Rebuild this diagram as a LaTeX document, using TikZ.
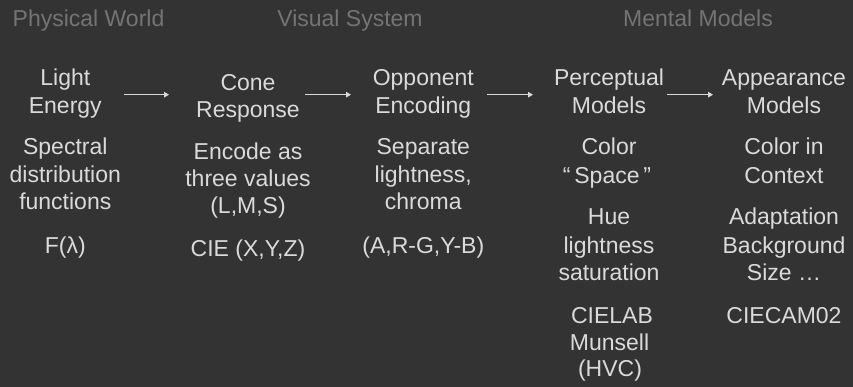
\documentclass[tikz,border=0pt]{standalone}
\usepackage{fontspec}
\setmainfont{Liberation Sans}
\usetikzlibrary{arrows.meta}
\definecolor{bg}{HTML}{333333}
\definecolor{fg}{HTML}{DADADA}
\definecolor{hd}{HTML}{747474}
\begin{document}
\begin{tikzpicture}[x=1pt,y=-1pt,
  txt/.style={text=fg, font=\fontsize{23}{27}\selectfont, anchor=base, inner sep=0pt},
  hdr/.style={txt, text=hd},
  arr/.style={draw=fg, line width=1.5pt, -{Triangle[length=5pt,width=5.5pt]}}]
\fill[bg] (0,0) rectangle (853,387);
\useasboundingbox (0,0) rectangle (853,387);
% headers
\node[hdr] (h1) at (88.5,26.7) {Physical World};
\node[hdr] (h2) at (350,26.7) {Visual System};
\node[hdr] (h3) at (698,26.7) {Mental Models};
% column 1
\node[txt] (c1t1) at (65.3,86) {Light};
\node[txt] (c1t2) at (65.3,113.3) {Energy};
\node[txt] (c1d1) at (65.3,155) {Spectral};
\node[txt] (c1d2) at (65.3,183) {distribution};
\node[txt] (c1d3) at (65.3,210) {functions};
\node[txt] (c1e1) at (65.3,254) {F(λ)};
% column 2
\node[txt] (c2t1) at (248,90.7) {Cone};
\node[txt] (c2t2) at (248,117.3) {Response};
\node[txt] (c2d1) at (248,159.3) {Encode as};
\node[txt] (c2d2) at (248,186.7) {three values};
\node[txt] (c2d3) at (248,214) {(L,M,S)};
\node[txt] (c2e1) at (248,256.7) {CIE (X,Y,Z)};
% column 3
\node[txt] (c3t1) at (423.3,86) {Opponent};
\node[txt] (c3t2) at (423.3,113.3) {Encoding};
\node[txt] (c3d1) at (423.3,154.3) {Separate};
\node[txt] (c3d2) at (423.3,182.7) {lightness,};
\node[txt] (c3d3) at (423.3,210) {chroma};
\node[txt] (c3e1) at (423.3,253.3) {(A,R-G,Y-B)};
% column 4
\node[txt] (c4t1) at (609,86) {Perceptual};
\node[txt] (c4t2) at (609,113.3) {Models};
\node[txt] (c4d1) at (609,155) {Color};
\node[txt] (c4d2) at (607,183.3) {“\,Space\,”};
\node[txt] (c4e1) at (609,225) {Hue};
\node[txt] (c4e2) at (609,253.3) {lightness};
\node[txt] (c4e3) at (609,280) {saturation};
\node[txt] (c4f1) at (612,323.3) {CIELAB};
\node[txt] (c4f2) at (609.5,350) {Munsell};
\node[txt] (c4f3) at (610,376.7) {(HVC)};
% column 5
\node[txt] (c5t1) at (784,86) {Appearance};
\node[txt] (c5t2) at (784,113.3) {Models};
\node[txt] (c5d1) at (784,155) {Color in};
\node[txt] (c5d2) at (784,183.3) {Context};
\node[txt] (c5e1) at (784,225) {Adaptation};
\node[txt] (c5e2) at (784,253.3) {Background};
\node[txt] (c5e3) at (784,280.7) {Size …};
\node[txt] (c5f1) at (784,323.3) {CIECAM02};
% arrows
\coordinate (a1s) at (124,94.7); \coordinate (a1e) at (169,94.7);
\coordinate (a2s) at (305,94.7); \coordinate (a2e) at (351,94.7);
\coordinate (a3s) at (487,94.7); \coordinate (a3e) at (533,94.7);
\coordinate (a4s) at (667,94.7); \coordinate (a4e) at (713,94.7);
\draw[arr] (a1s) -- (a1e);
\draw[arr] (a2s) -- (a2e);
\draw[arr] (a3s) -- (a3e);
\draw[arr] (a4s) -- (a4e);
\end{tikzpicture}
\end{document}
